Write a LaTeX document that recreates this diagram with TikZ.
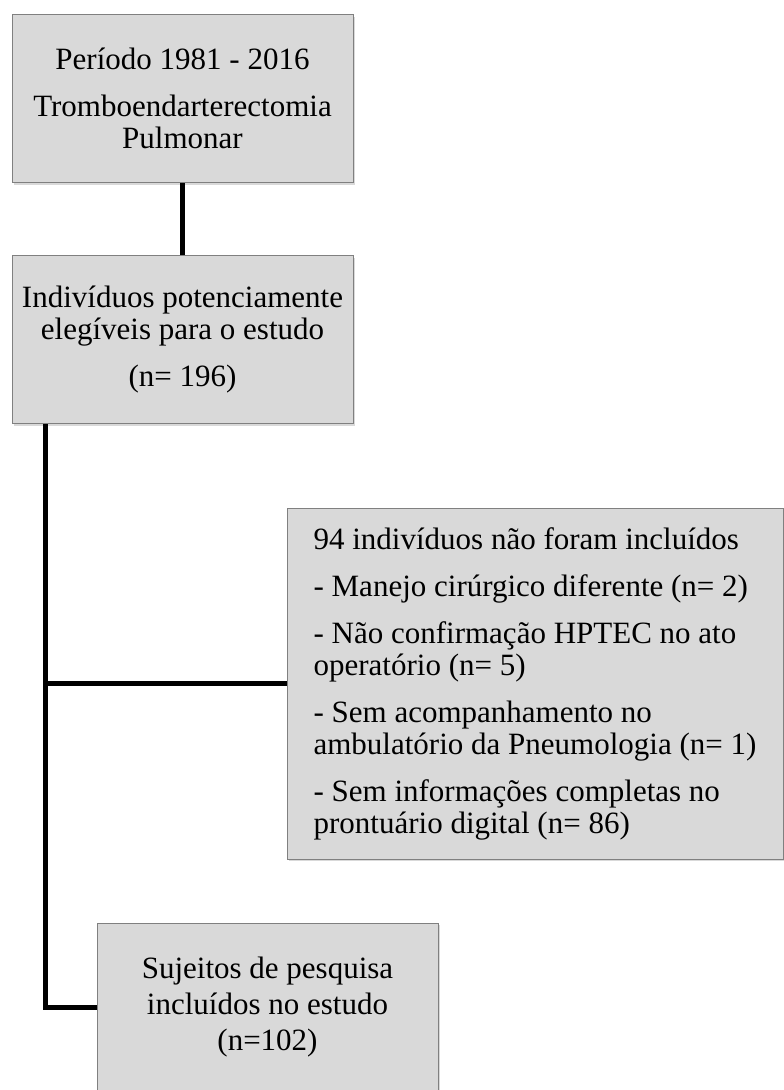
\documentclass[tikz,border=0pt]{standalone}
\usepackage{fontspec}
\setmainfont{Liberation Serif}
\usepackage{xcolor}
\usepackage{tikz}
\usetikzlibrary{positioning, shadows}

\definecolor{boxgray}{HTML}{D9D9D9}
\definecolor{boxedge}{HTML}{808080}

\begin{document}
\begin{tikzpicture}[x=1pt, y=-1pt,
  box/.style={rectangle, draw=boxedge, line width=1pt, fill=boxgray,
              minimum width=341pt, minimum height=168pt, inner sep=0pt,
              font=\fontsize{31}{32}\selectfont,
              drop shadow={shadow xshift=1.5pt, shadow yshift=-2pt, opacity=.3}},
  widebox/.style={box, minimum width=496pt, minimum height=351pt},
  link/.style={line width=5pt, line join=miter},
  every node/.style={align=center}
]
\useasboundingbox (0,0) rectangle (784,1090);

\node[box] (periodo) at (182.5,98.5)
  {Período 1981 - 2016\\[15pt]Tromboendarterectomia\\Pulmonar};
\node[box, below=72pt of periodo] (elegiveis)
  {Indivíduos potenciamente\\elegíveis para o estudo\\[15pt](n= 196)};
\node[widebox, align=left] (excluidos) at (535,683.5)
  {94 indivíduos não foram incluídos\\[15pt]
   - Manejo cirúrgico diferente (n= 2)\\[15pt]
   - Não confirmação HPTEC no ato\\operatório (n= 5)\\[15pt]
   - Sem acompanhamento no\\ambulatório da Pneumologia (n= 1)\\[15pt]
   - Sem informações completas no\\prontuário digital (n= 86)};
\node[box] (incluidos) at (267.5,1007)
  {Sujeitos de pesquisa\\[4pt]incluídos no estudo\\[4pt](n=102)};

\coordinate (trunk) at ([xshift=34pt]elegiveis.south west);

\draw[link] (periodo) -- (elegiveis);
\draw[link] (trunk) |- (incluidos.west);
\draw[link] (trunk |- excluidos.west) -- (excluidos.west);
\end{tikzpicture}
\end{document}
